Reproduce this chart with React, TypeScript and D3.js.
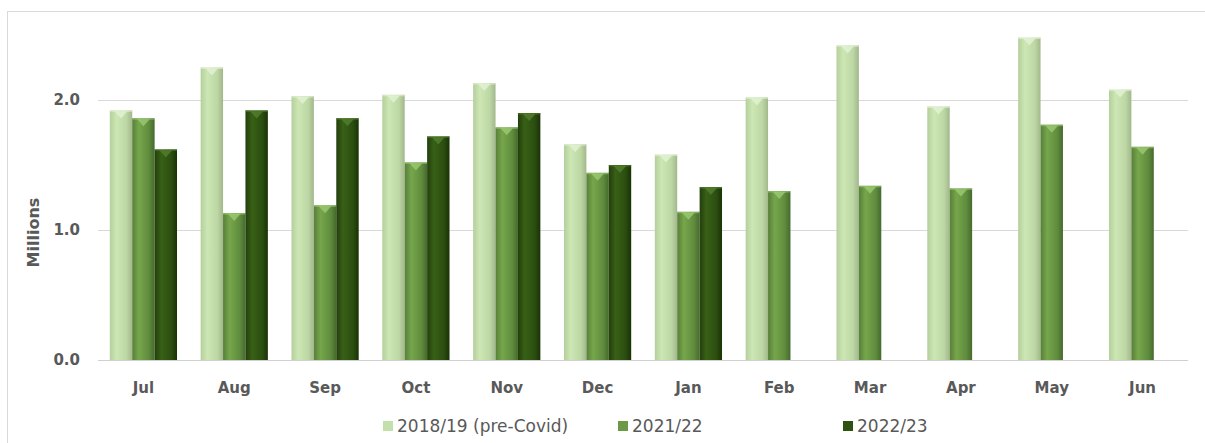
import React from 'react';
import * as d3 from 'd3';

const months = ['Jul', 'Aug', 'Sep', 'Oct', 'Nov', 'Dec', 'Jan', 'Feb', 'Mar', 'Apr', 'May', 'Jun'];
const seriesNames = ['2018/19 (pre-Covid)', '2021/22', '2022/23'];
const preCovid = [1.92, 2.25, 2.03, 2.04, 2.13, 1.66, 1.58, 2.02, 2.42, 1.95, 2.48, 2.08];
const year2122 = [1.86, 1.13, 1.19, 1.52, 1.79, 1.44, 1.14, 1.30, 1.34, 1.32, 1.81, 1.64];
const year2223 = [1.62, 1.92, 1.86, 1.72, 1.90, 1.50, 1.33, null, null, null, null, null];
const yTicks = [0, 1, 2];

// gradient stops per series: edge, highlight, mid, dark edge
const palettes = [
  ['#b4cf9c', '#cce6b4', '#bcd6a4', '#a2b78b'],
  ['#577f39', '#76a64b', '#5f8c3d', '#46692d'],
  ['#223f0c', '#386016', '#2b4e10', '#1a3206'],
];
const tipColors = ['#e4f3d6', '#9ccb74', '#547f2e'];
const swatch = ['#c3dfac', '#6a9a45', '#2f5213'];

const W = 1205;
const H = 443;
const left = 98;
const right = 1188;
const bottom = 360;
const top = 35;
const font = "'DejaVu Sans', 'Noto Sans', sans-serif";
const textColor = '#595959';

export default function App() {
  const series = [preCovid, year2122, year2223];

  const x = d3.scaleBand<string>()
    .domain(months)
    .range([left, right])
    .paddingInner(0.26)
    .paddingOuter(0.13);

  const xs = d3.scaleBand<number>()
    .domain([0, 1, 2])
    .range([0, x.bandwidth()]);

  const y = d3.scaleLinear().domain([0, 2.5]).range([bottom, top]);

  const bw = xs.bandwidth();

  return (
    <svg width={W} height={H} style={{ position: 'absolute', left: 0, top: 0, background: '#fff' }}>
      <defs>
        {palettes.map((p, i) => (
          <linearGradient key={i} id={`g${i}`} x1="0" x2="1" y1="0" y2="0">
            <stop offset="0%" stopColor={p[0]} />
            <stop offset="30%" stopColor={p[1]} />
            <stop offset="75%" stopColor={p[2]} />
            <stop offset="100%" stopColor={p[3]} />
          </linearGradient>
        ))}
      </defs>

      <rect x={7.5} y={11.5} width={W + 10} height={H + 10} fill="none" stroke="#d9d9d9" />

      {/* gridlines */}
      {yTicks.map(t => (
        <line key={t} x1={left} x2={right} y1={Math.round(y(t)) + 0.5} y2={Math.round(y(t)) + 0.5}
          stroke={t === 0 ? '#d0d0d0' : '#d9d9d9'} strokeWidth={1} />
      ))}

      {/* y tick labels */}
      {yTicks.map(t => (
        <text key={t} x={80} y={y(t)} dy="0.36em" textAnchor="end" fontFamily={font}
          fontWeight="bold" fontSize={15} fill={textColor}>{t.toFixed(1)}</text>
      ))}

      <text transform={`translate(39,${(y(0) + y(2.5)) / 2 + 35}) rotate(-90)`} textAnchor="middle"
        fontFamily={font} fontWeight="bold" fontSize={16} fill={textColor}>Millions</text>

      {/* bars */}
      {months.map((m, mi) => (
        <g key={m} transform={`translate(${x(m)},0)`}>
          {series.map((s, si) => {
            const v = s[mi];
            if (v == null) return null;
            const bx = xs(si)!;
            const by = y(v);
            const tw = bw * 0.55;
            const cx = bx + bw / 2;
            return (
              <g key={si}>
                <rect x={bx} y={by} width={bw} height={bottom - by} fill={`url(#g${si})`} />
                <path d={`M${cx - tw / 2},${by + 1}L${cx + tw / 2},${by + 1}L${cx},${by + 8}Z`}
                  fill={tipColors[si]} opacity={0.8} />
                <rect x={bx} y={by} width={bw} height={1.5} fill={tipColors[si]} opacity={0.6} />
              </g>
            );
          })}
          <text x={x.bandwidth() / 2} y={393} textAnchor="middle" fontFamily={font} fontWeight="bold"
            fontSize={15} fill={textColor}>{m}</text>
        </g>
      ))}

      {/* legend */}
      {seriesNames.map((n, i) => {
        const lx = [383, 618, 843][i];
        return (
          <g key={n} transform={`translate(${lx},426)`}>
            <rect x={0} y={-5} width={10} height={10} fill={swatch[i]} />
            <text x={14} y={0} dy="0.36em" fontFamily={font} fontSize={17} fill={textColor}>{n}</text>
          </g>
        );
      })}
    </svg>
  );
}
